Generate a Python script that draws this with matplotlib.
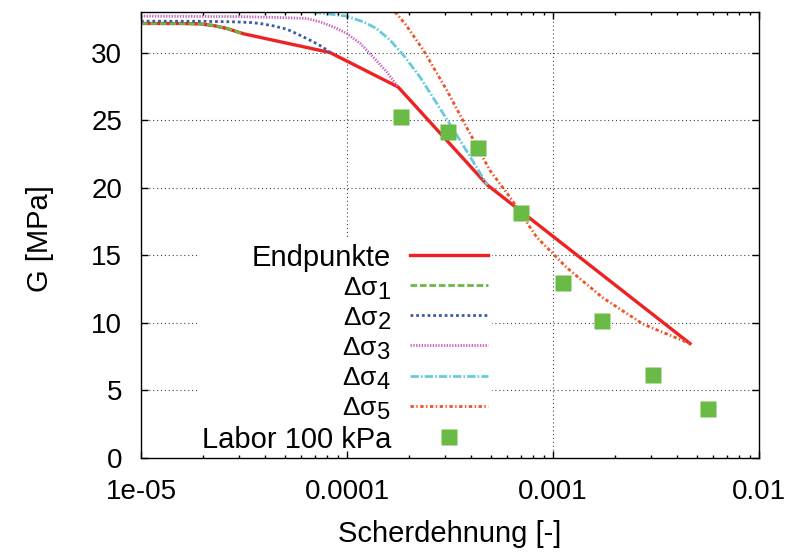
import matplotlib
matplotlib.use("Agg")
import matplotlib.pyplot as plt
import matplotlib._mathtext as mathtext_internals

# shear strain [-] and shear modulus G [MPa]
eps_ds1 = [1e-5, 1.5e-5, 1.93e-5, 2.24e-5, 2.61e-5, 3.02e-5, 3.16e-5]
g_ds1 = [32.15, 32.15, 32.12, 32.0, 31.78, 31.47, 31.38]

eps_ds2 = [1e-5, 2.0e-5, 2.81e-5, 3.4e-5, 3.78e-5, 4.39e-5, 5.10e-5, 5.91e-5,
           6.86e-5, 7.6e-5, 8.27e-5]
g_ds2 = [32.32, 32.31, 32.27, 32.22, 32.15, 31.97, 31.73, 31.28, 30.79, 30.42, 30.0]

eps_ds3 = [1e-5, 3e-5, 4.73e-5, 6.37e-5, 7.39e-5, 8.58e-5, 9.97e-5, 1.16e-4,
           1.34e-4, 1.56e-4, 1.77e-4]
g_ds3 = [32.69, 32.66, 32.59, 32.52, 32.27, 31.90, 31.41, 30.67, 29.67, 28.56, 27.45]

eps_ds4 = [6.84e-5, 8.27e-5, 9.97e-5, 1.20e-4, 1.39e-4, 1.62e-4, 1.88e-4, 2.26e-4,
           2.83e-4, 3.54e-4, 4.8e-4]
g_ds4 = [33.0, 32.84, 32.69, 32.27, 31.78, 30.91, 29.80, 28.19, 25.85, 23.50, 20.2]

eps_ds5 = [1.71e-4, 1.91e-4, 2.35e-4, 3.05e-4, 3.88e-4, 4.94e-4, 6.18e-4, 8.34e-4,
           1.17e-3, 1.75e-3, 2.74e-3, 4.29e-3, 4.62e-3]
g_ds5 = [33.0, 32.15, 30.17, 27.21, 24.24, 21.28, 19.30, 16.33, 14.06, 11.84,
         9.90, 8.67, 8.47]

# first curve plus the end points of the others
eps_end = [1e-5, 1.5e-5, 1.93e-5, 2.24e-5, 2.61e-5, 3.02e-5, 3.16e-5,
           8.27e-5, 1.77e-4, 4.8e-4, 4.62e-3]
g_end = [32.15, 32.15, 32.12, 32.0, 31.78, 31.47, 31.38, 30.0, 27.45, 20.2, 8.47]

eps_lab = [1.82e-4, 3.10e-4, 4.34e-4, 7.02e-4, 1.12e-3, 1.73e-3, 3.07e-3, 5.68e-3]
g_lab = [25.2, 24.1, 22.9, 18.15, 12.95, 10.15, 6.15, 3.6]

x_ticks = [1e-5, 1e-4, 1e-3, 1e-2]
x_ticklabels = ["1e-05", "0.0001", "0.001", "0.01"]
y_ticks = [0, 5, 10, 15, 20, 25, 30]

plt.rcParams["font.family"] = ["Liberation Sans", "DejaVu Sans"]
plt.rcParams["mathtext.default"] = "regular"
# larger subscript indices than the mathtext default
mathtext_internals.SHRINK_FACTOR = 0.9
fs_tick = 20
fs = 21
fs_sym = 19

fig = plt.figure(figsize=(8.09, 5.52), dpi=100)
ax = fig.add_axes([0.1743, 0.1703, 0.7639, 0.8080])

lw = 2.0
ax.plot(eps_end, g_end, color="#ee2222", lw=2.4, label="Endpunkte")
ax.plot(eps_ds1, g_ds1, color="#6ab845", lw=lw, ls=(0, (2.4, 1.0)), label=r"$\Delta\sigma_1$")
ax.plot(eps_ds2, g_ds2, color="#3b5ba9", lw=lw, ls=(0, (1.0, 1.05)), label=r"$\Delta\sigma_2$")
ax.plot(eps_ds3, g_ds3, color="#cc66bb", lw=lw, ls=(0, (0.5, 0.5)), label=r"$\Delta\sigma_3$")
ax.plot(eps_ds4, g_ds4, color="#66ccdd", lw=lw, ls=(0, (3, 0.75, 0.6, 0.75)), label=r"$\Delta\sigma_4$")
ax.plot(eps_ds5, g_ds5, color="#f25022", lw=lw, ls=(0, (1.2, 0.9, 0.5, 0.9)), label=r"$\Delta\sigma_5$")
ax.plot(eps_lab, g_lab, ls="none", marker="s", ms=11, color="#6abb45", mec="none",
        label="Labor 100 kPa")

ax.set_xscale("log")
ax.set_xlim(1e-5, 1e-2)
ax.set_ylim(0, 33)
ax.set_xticks(x_ticks)
ax.set_xticklabels(x_ticklabels)
ax.set_yticks(y_ticks)
ax.tick_params(which="both", direction="in", top=True, right=True, labelsize=fs_tick, width=1)
ax.tick_params(which="major", length=5)
ax.tick_params(which="minor", length=2.5)
ax.tick_params(axis="y", pad=13.5)
ax.tick_params(axis="x", pad=15)
for s in ax.spines.values():
    s.set_linewidth(1.0)
    s.set_zorder(6)
# ticks stay visible above the legend box, grid stays below it
ax.xaxis.set_zorder(6)
ax.yaxis.set_zorder(6)

grid_style = dict(color="#444444", lw=0.8, ls=(0, (1, 2.5)), zorder=1)
for y in y_ticks[1:]:
    ax.axhline(y, **grid_style)
for x in x_ticks[1:-1]:
    ax.axvline(x, **grid_style)

ax.set_xlabel("Scherdehnung [-]", fontsize=fs)
ax.xaxis.set_label_coords(0.5, -0.14)
ax.set_ylabel("G [MPa]", fontsize=fs)
ax.yaxis.set_label_coords(-0.141, 0.491)

leg = ax.legend(loc="lower right", bbox_to_anchor=(0.5686, 0.0), fontsize=fs,
                markerfirst=False, handlelength=2.67, handletextpad=0.66,
                labelspacing=0.12, borderpad=0.15, borderaxespad=0.0,
                frameon=True, fancybox=False, framealpha=1,
                facecolor="white", edgecolor="none")
for t in leg.get_texts()[1:6]:
    t.set_fontsize(fs_sym)
# right-align the entries so the labels line up against the samples
for col in leg._legend_handle_box.get_children():
    col.align = "right"

fig.savefig("out.png", dpi=100)
